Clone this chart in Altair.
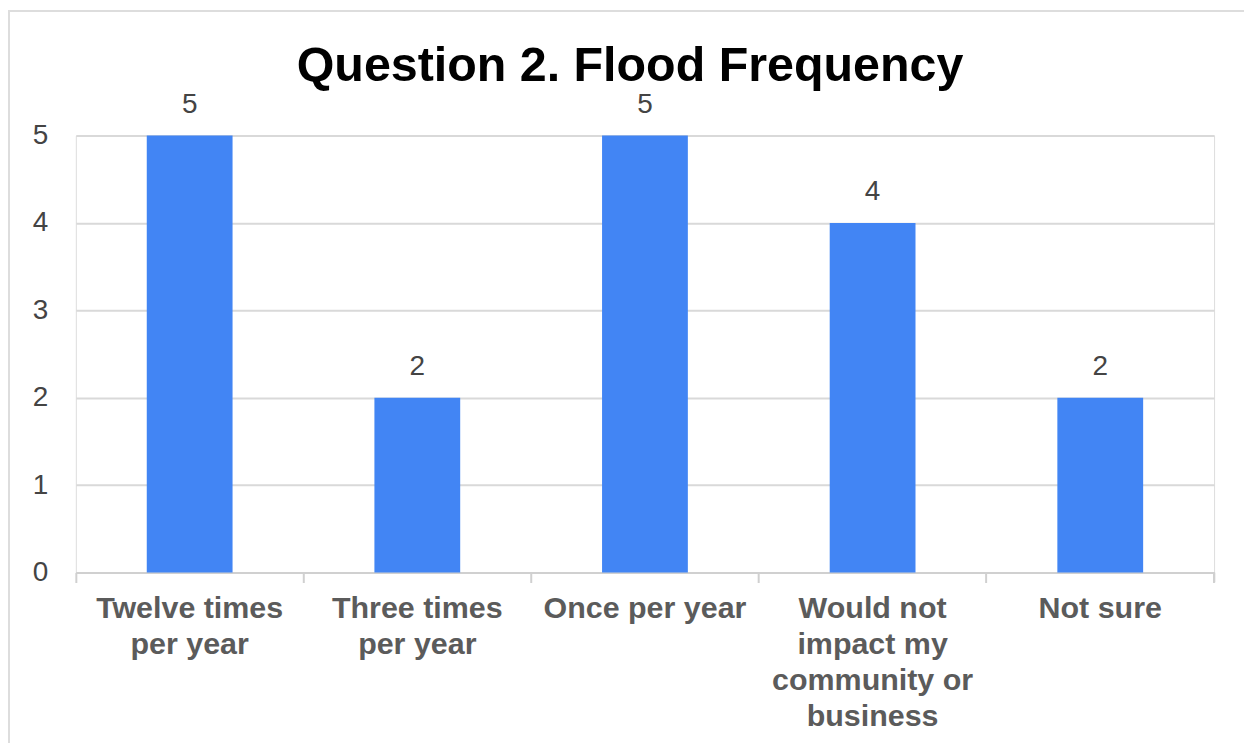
import altair as alt
import pandas as pd

categories = ["Twelve times|per year", "Three times|per year", "Once per year",
              "Would not|impact my|community or|business", "Not sure"]
values = [5, 2, 5, 4, 2]

df = pd.DataFrame({"cat": categories, "val": values})

W, H = 1141, 438

x = alt.X("cat:N", sort=None, title=None,
          scale=alt.Scale(paddingInner=0, paddingOuter=0),
          axis=alt.Axis(labelExpr="split(datum.label, '|')", labelAngle=0,
                        labelFont="Liberation Sans", labelFontWeight="bold",
                        labelFontSize=30.5, labelColor="#5b5b5b", labelLineHeight=36,
                        labelPadding=11, tickSize=10, tickColor="#d0d0d0", tickWidth=2,
                        domainColor="#d0d0d0", domainWidth=2, bandPosition=0,
                        grid=False, labelLimit=400))
y = alt.Y("val:Q", title=None,
          scale=alt.Scale(domain=[0, 5], nice=False),
          axis=alt.Axis(values=[0, 1, 2, 3, 4, 5], domain=False, ticks=False,
                        labelFont="Liberation Sans", labelFontSize=28,
                        labelColor="#444444", labelPadding=28,
                        gridColor="#d9d9d9", gridWidth=2))

base = alt.Chart(df)
bars = base.mark_bar(size=86, color="#4285F4").encode(x=x, y=y)
labels = base.mark_text(dy=-17, baseline="bottom", font="Liberation Sans",
                        fontSize=28, color="#444444").encode(x=x, y=y, text="val:Q")
end_tick = alt.Chart(df).mark_rule(color="#d0d0d0", strokeWidth=2).encode(
    x=alt.value(W), y=alt.value(H), y2=alt.value(H + 10))
border_left = alt.Chart(df).mark_rule(color="#dddddd", strokeWidth=2).encode(
    x=alt.value(-67), y=alt.value(-126), y2=alt.value(H + 300))
border_top = alt.Chart(df).mark_rule(color="#dddddd", strokeWidth=2).encode(
    x=alt.value(-68), x2=alt.value(W + 200), y=alt.value(-125))

chart = alt.layer(bars, labels, end_tick, border_left, border_top).properties(
    width=W, height=H,
    padding={"left": 68, "top": 127, "right": 30, "bottom": 170},
    autosize=alt.AutoSizeParams(type="none"),
    title=alt.TitleParams("Question 2. Flood Frequency", font="Liberation Sans",
                          fontSize=48.5, fontWeight="bold", color="#000000",
                          anchor="middle", dx=-15, offset=-83),
).configure_view(stroke=None).configure(background="white")

chart.save("out.html", embed_options={"renderer": "svg", "actions": False})
